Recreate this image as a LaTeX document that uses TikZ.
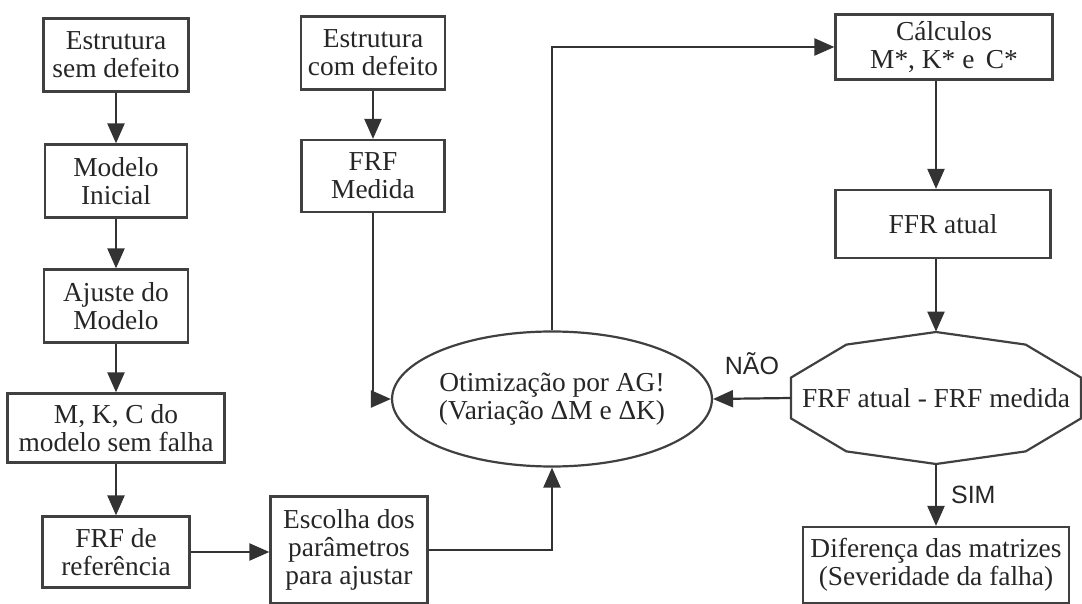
\documentclass[tikz,border=0pt]{standalone}
\usepackage{fontspec}
\setmainfont{Liberation Serif}
\newfontfamily\labelfont{Liberation Sans}
\usetikzlibrary{arrows.meta,shapes.geometric,calc}

\begin{document}
\begin{tikzpicture}[
  x=0.5pt, y=-0.5pt,
  >={Triangle[length=10pt,width=8.5pt]},
  every node/.style={text=black!85, font=\fontsize{13.7}{14}\selectfont,
    align=center, inner sep=0pt},
  boxnode/.style={draw=black!75, line width=1.1pt, rectangle},
  flow/.style={draw=black!80, line width=1.1pt, ->},
  answer/.style={font=\labelfont\fontsize{12.5}{13}\selectfont}
]
  \useasboundingbox (0,0) rectangle (1082,604);
  % left column
  \node[boxnode,minimum width=72.5pt,minimum height=36.5pt] (sem) at (116,55) {Estrutura\\sem defeito};
  \node[boxnode,minimum width=71pt,minimum height=36.5pt] (ini) at (116,181) {Modelo\\Inicial};
  \node[boxnode,minimum width=72pt,minimum height=36.5pt] (aju) at (116,306) {Ajuste do\\Modelo};
  \node[boxnode,minimum width=108.5pt,minimum height=34.5pt] (mkc) at (116,428) {M, K, C do\\modelo sem falha};
  \node[boxnode,minimum width=73.5pt,minimum height=35.5pt] (ref) at (116,552) {FRF de\\refer\^encia};
  \node[boxnode,minimum width=78.5pt,minimum height=53.5pt] (esc) at (349,550) {Escolha dos\\par\^ametros\\para ajustar};
  % middle column
  \node[boxnode,minimum width=72pt,minimum height=36.5pt] (com) at (373,53) {Estrutura\\com defeito};
  \node[boxnode,minimum width=71.5pt,minimum height=36pt] (med) at (373,176) {FRF\\Medida};
  \node[ellipse,draw=black!75,line width=1.1pt,minimum width=131pt,minimum height=67.5pt] (otim) at (552,399)
    {Otimiza\c{c}\~ao por AG!\\(Varia\c{c}\~ao ΔM e ΔK)};
  % right column
  \node[boxnode,minimum width=108.5pt,minimum height=32.5pt] (calc) at (944,47) {C\'alculos\\M*, K* e \,C*};
  \node[boxnode,minimum width=107.5pt,minimum height=34pt] (ffr) at (943,224) {FFR atual};
  \node[ellipse,minimum width=152.5pt,minimum height=66pt] (dec) at (936,398) {FRF atual - FRF medida};
  \foreach \a [count=\i] in {18,54,...,342}
    \coordinate (v\i) at ($(dec.center)+(\a:152.5 and 66)$);
  \draw[draw=black!75,line width=1.1pt] (v1) \foreach \i in {2,...,10} {-- (v\i)} -- cycle;
  \coordinate (decW) at ($(v5)!0.5!(v6)$);
  \node[boxnode,minimum width=133pt,minimum height=38pt] (dif) at (936,565) {Diferen\c{c}a das matrizes\\(Severidade da falha)};

  \draw[flow] (sem) -- (ini);
  \draw[flow] (ini) -- (aju);
  \draw[flow] (aju) -- (mkc);
  \draw[flow] (mkc) -- (ref);
  \draw[flow] (ref.east) -- (ref.east -| esc.west);
  \draw[flow] (esc.east) -| (otim.south);
  \draw[flow] (com) -- (med);
  \draw[flow] (med.south) |- (otim.west);
  \draw[flow] (otim.north) |- (calc.west);
  \draw[flow] (calc.south -| dec.north) -- (ffr.north -| dec.north);
  \draw[flow] (ffr.south -| dec.north) -- (dec.north);
  \draw[flow] (decW) -- (otim.east) node[midway,above=11.5pt,answer] {NÃO};
  \draw[flow] (dec.south) -- (dif.north) node[midway,right=7pt,answer] {SIM};
\end{tikzpicture}
\end{document}
